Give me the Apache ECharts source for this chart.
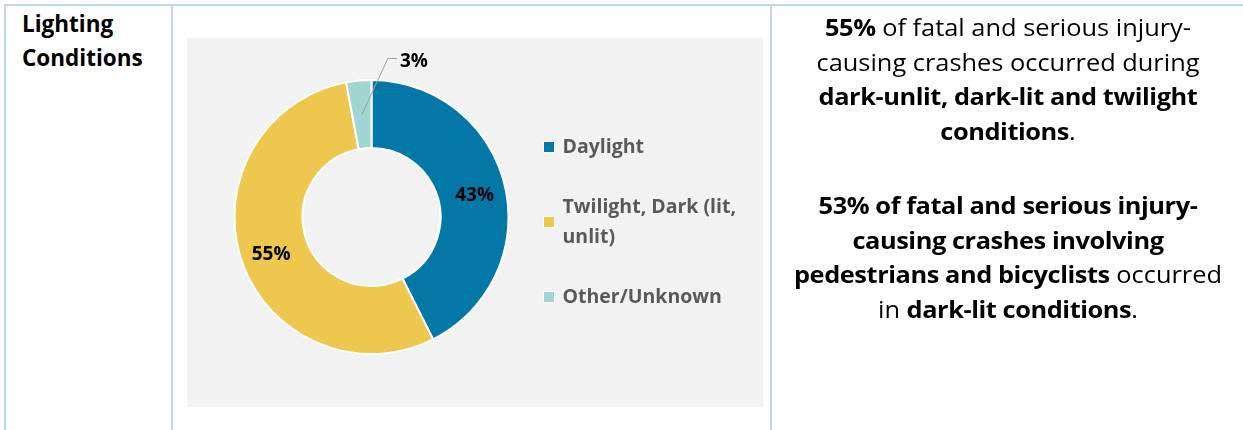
<!DOCTYPE html>
<html>
<head>
<meta charset="utf-8">
<script src="https://cdn.jsdelivr.net/npm/echarts@6/dist/echarts.min.js"></script>
<style>
  html, body { margin: 0; padding: 0; background: #ffffff; }
  body { width: 1243px; height: 430px; position: relative; overflow: hidden; font-family: "Open Sans", Lato, sans-serif; color: #000; }
  .rule { position: absolute; background: #BDD7EE; }
  #heading { position: absolute; left: 22px; top: 7px; font-weight: bold; font-size: 22.5px; line-height: 34px; }
  #chart { position: absolute; left: 187px; top: 38px; width: 576px; height: 369px; }
  .note { position: absolute; left: 773px; width: 470px; text-align: center; font-size: 23.5px; line-height: 34.7px; white-space: nowrap; transform: scaleX(1.08); transform-origin: 50% 0; }
  .note b { letter-spacing: -0.4px; }
</style>
</head>
<body>
  <div class="rule" style="left:4px; top:4px; width:1239px; height:2px;"></div>
  <div class="rule" style="left:4px; top:4px; width:2px; height:426px;"></div>
  <div class="rule" style="left:171px; top:4px; width:2px; height:426px;"></div>
  <div class="rule" style="left:770px; top:4px; width:2px; height:426px;"></div>

  <div id="heading">Lighting<br>Conditions</div>
  <div id="chart"></div>

  <div class="note" style="top:10px;"><b>55%</b> of fatal and serious injury-<br>causing crashes occurred during<br><b>dark-unlit, dark-lit and twilight</b><br><b>conditions</b>.</div>
  <div class="note" style="top:188px;"><b>53% of fatal and serious injury-</b><br><b>causing crashes involving</b><br><b>pedestrians and bicyclists</b> occurred<br>in <b>dark-lit conditions</b>.</div>

<script>
// Share of fatal and serious injury crashes by lighting condition (percent)
const categories = ['Daylight', 'Twilight, Dark (lit, unlit)', 'Other/Unknown'];
const shares = [43, 55, 3];
const colors = ['#0378A6', '#EEC74F', '#A0D5D2'];
const legendLines = { 'Twilight, Dark (lit, unlit)': 'Twilight, Dark (lit,\nunlit)' };

// the thin slice is labelled outside, with a leader line
const OUTSIDE_INDEX = 2;

const PIE_CENTER = [184.5, 179];
const RADII = [69, 137];

const chart = echarts.init(document.getElementById('chart'), null, { renderer: 'canvas' });

// coloured ring with the in-ring labels
const ringData = categories.map(function (name, i) {
  return {
    name: name,
    value: shares[i],
    itemStyle: { color: colors[i] },
    label: { show: i !== OUTSIDE_INDEX }
  };
});

// transparent copy of the ring on top, carrying the outside label so its
// leader line is painted over the coloured sectors
const overlayData = categories.map(function (name, i) {
  return {
    name: name,
    value: shares[i],
    label: { show: i === OUTSIDE_INDEX },
    labelLine: { show: i === OUTSIDE_INDEX }
  };
});

chart.setOption({
  backgroundColor: '#F2F2F2',
  animation: false,
  textStyle: { fontFamily: '"Open Sans", Lato, sans-serif' },
  legend: {
    orient: 'vertical',
    left: 356,
    top: 94,
    padding: 0,
    itemGap: 15,
    itemWidth: 11,
    itemHeight: 11,
    icon: 'rect',
    selectedMode: false,
    itemStyle: { borderColor: '#ffffff', borderWidth: 1 },
    formatter: function (name) { return legendLines[name] || name; },
    textStyle: { fontSize: 19.5, fontWeight: 'bold', color: '#595959', lineHeight: 30, padding: [0, 0, 0, 3] },
    data: categories.map(function (name) {
      return legendLines[name]
        ? { name: name, textStyle: { padding: [30, 0, 0, 3] } }
        : { name: name };
    })
  },
  series: [{
    type: 'pie',
    z: 2,
    center: PIE_CENTER,
    radius: RADII,
    startAngle: 90,
    clockwise: true,
    avoidLabelOverlap: false,
    itemStyle: { borderColor: '#ffffff', borderWidth: 2 },
    label: {
      position: 'inside',
      formatter: '{c}%',
      fontSize: 19,
      fontWeight: 'bold',
      color: '#000000'
    },
    labelLine: { show: false },
    labelLayout: function () { return { dy: 3.5 }; },
    data: ringData
  }, {
    type: 'pie',
    z: 3,
    silent: true,
    center: PIE_CENTER,
    radius: RADII,
    startAngle: 90,
    clockwise: true,
    avoidLabelOverlap: false,
    itemStyle: { color: 'rgba(0,0,0,0)', borderWidth: 0 },
    label: {
      position: 'outside',
      formatter: '{c}%',
      fontSize: 19,
      fontWeight: 'bold',
      color: '#000000'
    },
    labelLine: {
      length: 10,
      length2: 10,
      lineStyle: { color: '#A0A0A0', width: 1, opacity: 1 }
    },
    labelLayout: function (params) {
      if (params.dataIndex !== OUTSIDE_INDEX || !params.labelLinePoints) return {};
      const p0 = params.labelLinePoints[0];
      const dx = p0[0] - PIE_CENTER[0];
      const dy = p0[1] - PIE_CENTER[1];
      const len = Math.hypot(dx, dy) || 1;
      const rMid = (RADII[0] + RADII[1]) / 2;
      const start = [PIE_CENTER[0] + dx / len * rMid, PIE_CENTER[1] + dy / len * rMid];
      const elbow = [start[0] + 26, start[1] - 56];
      const end = [elbow[0] + 9, elbow[1]];
      return {
        x: end[0] + 3,
        y: end[1] + 3,
        align: 'left',
        verticalAlign: 'middle',
        labelLinePoints: [start, elbow, end]
      };
    },
    data: overlayData
  }]
});
</script>
</body>
</html>
